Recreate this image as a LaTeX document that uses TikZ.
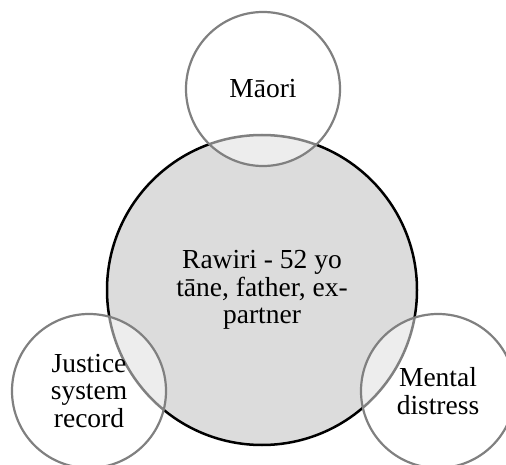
\documentclass[tikz,border=0pt]{standalone}
\usepackage{fontspec}
\setmainfont{Liberation Serif}
\definecolor{coreFill}{RGB}{220,220,220}
\definecolor{ringLine}{RGB}{128,128,128}
\begin{document}
\begin{tikzpicture}[x=1pt,y=-1pt,
  labeltext/.style={align=center,font=\fontsize{27.5}{27.7}\selectfont,text=black,text opacity=1},
  core/.style={circle,draw=black,line width=2.5pt,fill=coreFill,minimum size=310pt,inner sep=0pt,labeltext},
  ring/.style={circle,draw=ringLine,line width=2.2pt,fill=white,fill opacity=0.5,draw opacity=1,minimum size=154pt,inner sep=0pt,labeltext}]
  \useasboundingbox (0,0) rectangle (506,465);
  % central person
  \node[core] (main) at (262,290) {Rawiri - 52 yo\\ tāne, father, ex-\\ partner};
  % overlapping context circles
  \node[ring] (top) at (263,89) {Māori};
  \node[ring] (left) at (89,391) {Justice\\ system\\ record};
  \node[ring] (right) at (438,391) {Mental\\ distress};
\end{tikzpicture}
\end{document}
